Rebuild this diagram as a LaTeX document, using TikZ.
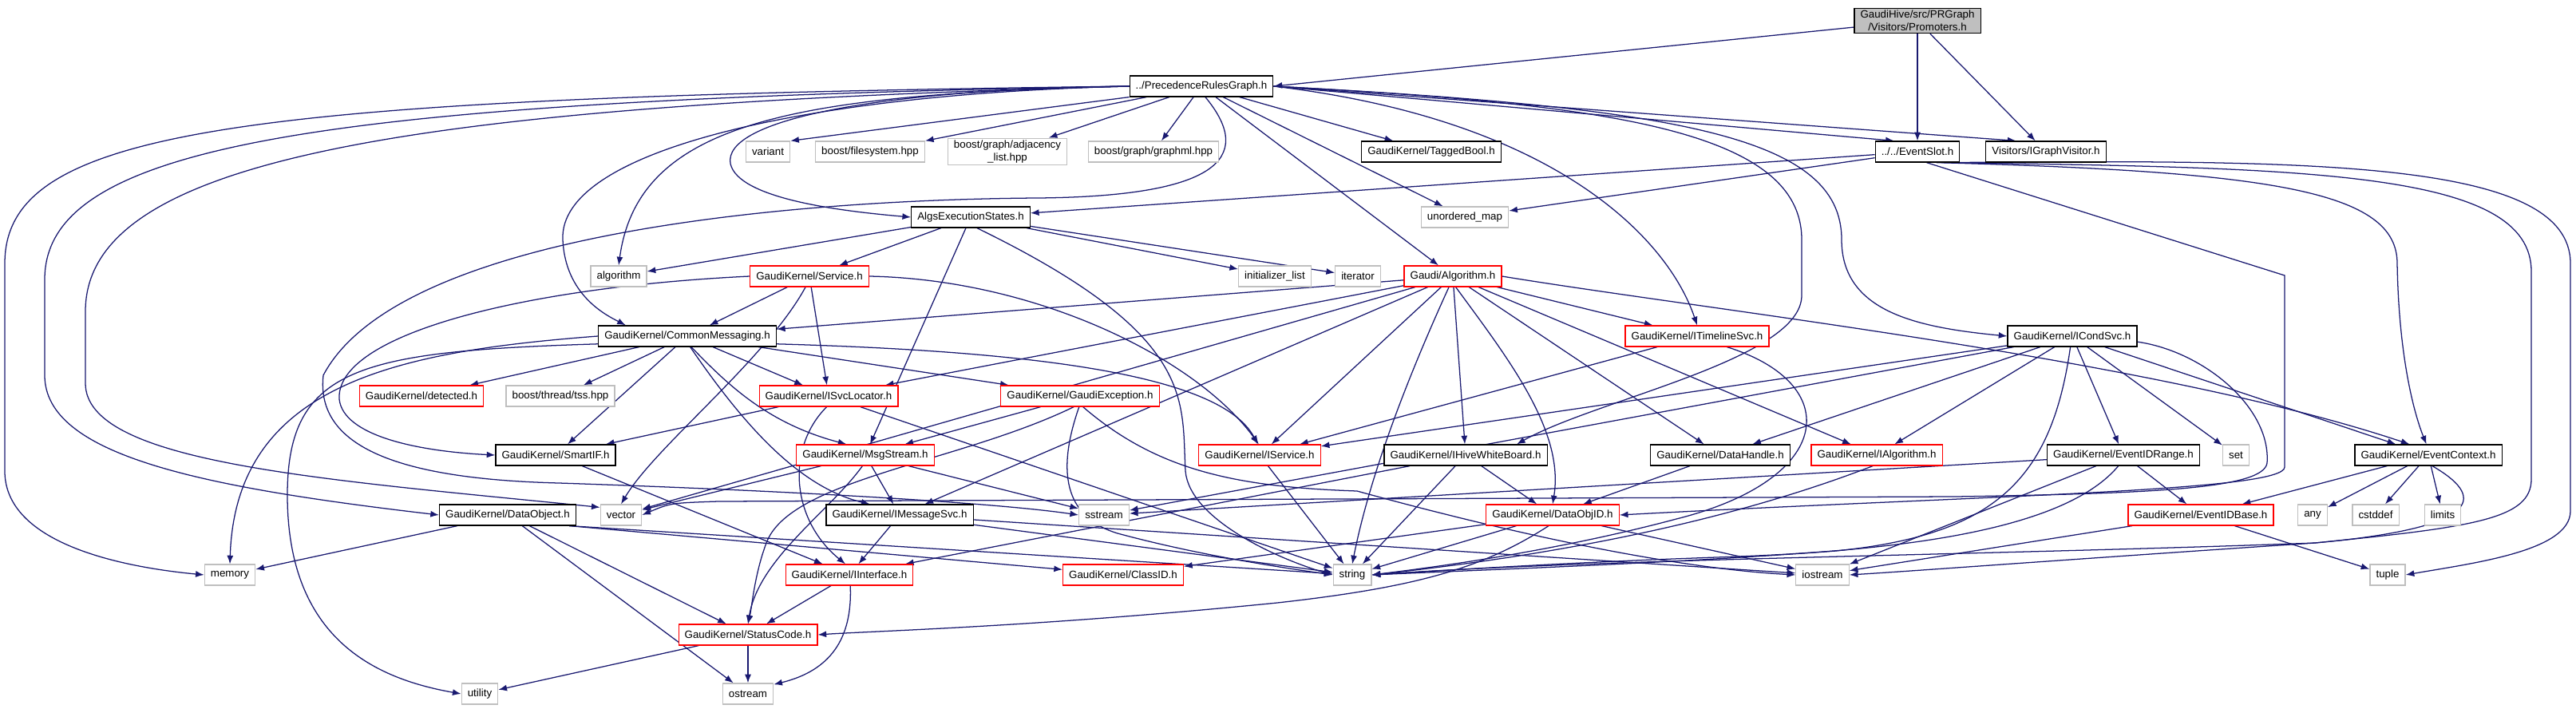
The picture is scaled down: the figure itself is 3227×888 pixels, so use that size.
\documentclass[tikz,border=0pt]{standalone}
\usepackage{fontspec}
\setmainfont{Liberation Sans}
\usetikzlibrary{arrows.meta,backgrounds}
\definecolor{edgeblue}{HTML}{191970}
\definecolor{boxgrey}{HTML}{BFBFBF}

\begin{document}
\begin{tikzpicture}[x=0.75pt, y=-0.75pt,
	file/.style={shape=rectangle, draw=black, fill=white, line width=0.9pt, minimum height=19.5pt, inner xsep=5.7pt, inner ysep=2pt, align=center, font=\fontsize{10}{12}\selectfont},
	trunc/.style={file, draw=red},
	sys/.style={file, draw=boxgrey},
	root/.style={file, fill=boxgrey},
	>={Latex[length=8pt,width=6pt]}, dep/.style={->, draw=edgeblue, line width=0.95pt}]
				\useasboundingbox (0,0) rectangle (3227,888);
				\node[root] (prom) at (2402,26) {GaudiHive/src/PRGraph\\/Visitors/Promoters.h};
				\node[file] (prg) at (1505,108) {../PrecedenceRulesGraph.h};
				\node[file] (slot) at (2402,190) {../../EventSlot.h};
				\node[file] (visit) at (2563,190) {Visitors/IGraphVisitor.h};
				\node[sys] (variant) at (962,190) {variant};
				\node[sys] (fsys) at (1090,190) {boost/filesystem.hpp};
				\node[sys] (adj) at (1262,190) {boost/graph/adjacency\\\_list.hpp};
				\node[sys] (gml) at (1445,190) {boost/graph/graphml.hpp};
				\node[file] (tbool) at (1793,190) {GaudiKernel/TaggedBool.h};
				\node[file] (aes) at (1216,272) {AlgsExecutionStates.h};
				\node[sys] (umap) at (1835,272) {unordered\_map};
				\node[sys] (algo) at (775,346) {algorithm};
				\node[trunc] (svc) at (1014,346) {GaudiKernel/Service.h};
				\node[sys] (ilist) at (1597,346) {initializer\_list};
				\node[sys] (iter) at (1701,346) {iterator};
				\node[trunc] (galg) at (1820,346) {Gaudi/Algorithm.h};
				\node[file] (cmsg) at (861,421) {GaudiKernel/CommonMessaging.h};
				\node[trunc] (tlsvc) at (2126,421) {GaudiKernel/ITimelineSvc.h};
				\node[file] (cond) at (2596,421) {GaudiKernel/ICondSvc.h};
				\node[trunc] (detd) at (528,496) {GaudiKernel/detected.h};
				\node[sys] (tss) at (702,496) {boost/thread/tss.hpp};
				\node[trunc] (svcloc) at (1038,496) {GaudiKernel/ISvcLocator.h};
				\node[trunc] (gexc) at (1353,496) {GaudiKernel/GaudiException.h};
				\node[file] (smart) at (696,570) {GaudiKernel/SmartIF.h};
				\node[trunc] (msgs) at (1084,570) {GaudiKernel/MsgStream.h};
				\node[trunc] (isvc) at (1578,570) {GaudiKernel/IService.h};
				\node[file] (hwb) at (1836,570) {GaudiKernel/IHiveWhiteBoard.h};
				\node[file] (dh) at (2155,570) {GaudiKernel/DataHandle.h};
				\node[trunc] (ialg) at (2351,570) {GaudiKernel/IAlgorithm.h};
				\node[file] (idr) at (2660,570) {GaudiKernel/EventIDRange.h};
				\node[sys] (stdset) at (2801,570) {set};
				\node[file] (ectx) at (3042,570) {GaudiKernel/EventContext.h};
				\node[file] (dobj) at (636,645) {GaudiKernel/DataObject.h};
				\node[sys] (vec) at (778,645) {vector};
				\node[file] (imsg) at (1127,645) {GaudiKernel/IMessageSvc.h};
				\node[sys] (sstr) at (1383,645) {sstream};
				\node[trunc] (doid) at (1945,645) {GaudiKernel/DataObjID.h};
				\node[trunc] (eidb) at (2757,645) {GaudiKernel/EventIDBase.h};
				\node[sys] (stdany) at (2897,645) {any};
				\node[sys] (cstd) at (2976,645) {cstddef};
				\node[sys] (lim) at (3060,645) {limits};
				\node[sys] (mem) at (288,720) {memory};
				\node[trunc] (iif) at (1064,720) {GaudiKernel/IInterface.h};
				\node[trunc] (clid) at (1407,720) {GaudiKernel/ClassID.h};
				\node[sys] (str) at (1694,720) {string};
				\node[sys] (ios) at (2283,720) {iostream};
				\node[sys] (tup) at (2991,720) {tuple};
				\node[trunc] (sc) at (937,795) {GaudiKernel/StatusCode.h};
				\node[sys] (util) at (601,869) {utility};
				\node[sys] (ostr) at (937,869) {ostream};
				\begin{scope}[on background layer]
				\draw[dep] (prom) to (prg.east);
				\draw[dep] (prom) to (slot);
				\draw[dep] (prom) to (visit);
				\draw[dep] (prg.south west) to (variant.north east);
				\draw[dep] (prg) to (fsys);
				\draw[dep] (prg) to (adj);
				\draw[dep] (prg) to (gml);
				\draw[dep] (prg) to (tbool);
				\draw[dep] (prg) to (umap);
				\draw[dep] (prg) to (galg);
				\draw[dep] (prg.east) to (slot.155);
				\draw[dep] (prg.east) to (visit.160);
				\draw[dep] (prg.west) .. controls (1100,112) and (905,150) .. (915,205) .. controls (925,250) and (1060,265) .. (aes.west);
				\draw[dep] (prg.west) .. controls (1000,118) and (800,150) .. (algo.north);
				\draw[dep] (prg.west) .. controls (1000,118) and (700,190) .. (705,300) .. controls (708,370) and (760,395) .. (cmsg.170);
				\draw[dep] (prg.west) .. controls (300,122) and (6,160) .. (6,330) -- (6,590) .. controls (6,680) and (150,710) .. (mem.west);
				\draw[dep] (prg.west) .. controls (400,126) and (56,180) .. (56,350) -- (56,470) .. controls (56,570) and (250,610) .. (dobj.west);
				\draw[dep] (prg.west) .. controls (500,132) and (107,200) .. (107,390) -- (107,480) .. controls (107,580) and (400,600) .. (vec.160);
				\draw[dep] (prg.-70) .. controls (1575,200) and (1520,246) .. (1300,248) .. controls (1000,250) and (500,290) .. (405,470) .. controls (395,560) and (500,600) .. (700,605) .. controls (1000,615) and (1250,630) .. (sstr.west);
				\draw[dep] (prg.east) .. controls (1950,150) and (2090,300) .. (tlsvc.north);
				\draw[dep] (prg.east) .. controls (2000,130) and (2257,160) .. (2257,300) -- (2257,370) .. controls (2257,450) and (2000,500) .. (hwb.12);
				\draw[dep] (prg.east) .. controls (2100,135) and (2307,170) .. (2307,300) .. controls (2307,390) and (2400,410) .. (cond.west);
				\draw[dep] (slot) to (aes);
				\draw[dep] (slot) to (umap);
				\draw[dep] (slot.-50) -- (2862,345) -- (2862,585) .. controls (2862,615) and (2500,620) .. (doid.east);
				\draw[dep] (slot.-30) .. controls (2850,215) and (3003,240) .. (3003,330) .. controls (3005,450) and (3025,520) .. (ectx.100);
				\draw[dep] (slot.-25) .. controls (2900,210) and (3171,215) .. (3171,340) -- (3171,600) .. controls (3171,650) and (3100,660) .. (2900,680) .. controls (2500,695) and (2000,700) .. (str.east);
				\draw[dep] (slot.-20) .. controls (2900,200) and (3220,200) .. (3220,330) -- (3220,640) .. controls (3220,690) and (3100,705) .. (tup.east);
				\draw[dep] (aes) to (algo);
				\draw[dep] (aes) to (svc);
				\draw[dep] (aes) to (ilist);
				\draw[dep] (aes) to (iter);
				\draw[dep] (aes) to (msgs);
				\draw[dep] (aes.-60) .. controls (1500,420) and (1480,500) .. (1485,590) .. controls (1490,650) and (1600,700) .. (str.west);
				\draw[dep] (svc) to (cmsg);
				\draw[dep] (svc) to (svcloc);
				\draw[dep] (svc.east) .. controls (1300,350) and (1500,450) .. (isvc.95);
				\draw[dep] (svc.west) .. controls (650,360) and (420,420) .. (425,500) .. controls (430,545) and (520,565) .. (smart.west);
				\draw[dep] (svc.250) .. controls (960,450) and (820,560) .. (vec.north);
				\draw[dep] (galg) to (cmsg);
				\draw[dep] (galg) to (svcloc);
				\draw[dep] (galg) to (vec);
				\draw[dep] (galg) to (isvc);
				\draw[dep] (galg) to (hwb);
				\draw[dep] (galg) to (dh);
				\draw[dep] (galg) to (ialg);
				\draw[dep] (galg) to (tlsvc);
				\draw[dep] (galg) to (imsg);
				\draw[dep] (galg.east) .. controls (2150,390) and (2700,450) .. (ectx.150);
				\draw[dep] (galg.-110) .. controls (1760,480) and (1715,600) .. (str.north);
				\draw[dep] (galg.-75) .. controls (1890,450) and (1960,540) .. (doid.north);
				\draw[dep] (tlsvc) to (isvc);
				\draw[dep] (tlsvc.-20) .. controls (2310,480) and (2300,600) .. (2100,650) .. controls (1950,690) and (1800,710) .. (str.east);
				\draw[dep] (cond) to (isvc);
				\draw[dep] (cond) to (sstr);
				\draw[dep] (cond) to (dh);
				\draw[dep] (cond) to (ialg);
				\draw[dep] (cond) to (idr);
				\draw[dep] (cond) to (stdset);
				\draw[dep] (cond) to (ectx);
				\draw[dep] (cond.-100) .. controls (2570,600) and (2500,670) .. (2300,690) .. controls (2100,705) and (1900,712) .. (str.east);
				\draw[dep] (cond.-5) .. controls (2760,440) and (2845,510) .. (2840,580) .. controls (2835,612) and (2700,618) .. (2450,622) -- (900,628) .. controls (840,630) .. (vec.east);
				\draw[dep] (cmsg) to (detd);
				\draw[dep] (cmsg) to (tss);
				\draw[dep] (cmsg) to (smart);
				\draw[dep] (cmsg) to (svcloc);
				\draw[dep] (cmsg) to (gexc);
				\draw[dep] (cmsg.-70) .. controls (910,480) and (960,530) .. (msgs.150);
				\draw[dep] (cmsg.-75) .. controls (930,530) and (1000,610) .. (imsg.160);
				\draw[dep] (cmsg.-5) .. controls (1300,440) and (1530,470) .. (isvc.100);
				\draw[dep] (cmsg.west) .. controls (500,440) and (295,480) .. (mem.north);
				\draw[dep] (cmsg.185) .. controls (450,440) and (360,460) .. (360,620) .. controls (360,800) and (470,850) .. (util.west);
				\draw[dep] (svcloc) to (smart);
				\draw[dep] (svcloc) to (str);
				\draw[dep] (svcloc.-100) .. controls (985,560) and (990,650) .. (iif.110);
				\draw[dep] (gexc) to (msgs);
				\draw[dep] (gexc.-120) .. controls (1200,580) and (990,600) .. (960,680) .. controls (945,720) and (942,760) .. (sc.north);
				\draw[dep] (gexc.-95) .. controls (1320,600) and (1340,650) .. (1400,668) .. controls (1500,695) and (1600,710) .. (str.west);
				\draw[dep] (gexc.-75) .. controls (1450,590) and (1550,610) .. (1700,615) .. controls (1900,670) and (2100,712) .. (ios.west);
				\draw[dep] (smart) to (iif);
				\draw[dep] (msgs) to (imsg);
				\draw[dep] (msgs) to (sstr);
				\draw[dep] (msgs) to (vec);
				\draw[dep] (msgs.-105) .. controls (1040,640) and (950,700) .. (sc.north);
				\draw[dep] (isvc) to (str);
				\draw[dep] (hwb) to (iif);
				\draw[dep] (hwb) to (doid);
				\draw[dep] (hwb) to (str);
				\draw[dep] (dh) to (doid);
				\draw[dep] (ialg.-110) .. controls (2200,640) and (2000,690) .. (str.east);
				\draw[dep] (idr) to (sstr);
				\draw[dep] (idr) to (eidb);
				\draw[dep] (idr) to (ios);
				\draw[dep] (idr.-115) .. controls (2590,660) and (2400,690) .. (2150,698) .. controls (1950,705) and (1800,715) .. (str.east);
				\draw[dep] (ectx) to (eidb);
				\draw[dep] (ectx) to (stdany);
				\draw[dep] (ectx) to (cstd);
				\draw[dep] (ectx) to (lim);
				\draw[dep] (ectx.-70) .. controls (3110,620) and (3120,660) .. (2900,680) .. controls (2600,700) and (2400,715) .. (ios.east);
				\draw[dep] (dobj) to (mem);
				\draw[dep] (dobj) to (sc);
				\draw[dep] (dobj) to (ostr);
				\draw[dep] (dobj.-10) to (clid);
				\draw[dep] (dobj.-10) to (str);
				\draw[dep] (imsg) to (iif);
				\draw[dep] (imsg) to (str);
				\draw[dep] (imsg) to (ios);
				\draw[dep] (doid) to (clid);
				\draw[dep] (doid) to (str);
				\draw[dep] (doid) to (ios);
				\draw[dep] (doid.-110) .. controls (1860,710) and (1780,735) .. (1600,755) .. controls (1300,785) and (1100,790) .. (sc.east);
				\draw[dep] (eidb) to (ios);
				\draw[dep] (eidb) to (tup);
				\draw[dep] (iif) to (sc);
				\draw[dep] (iif.-85) .. controls (1068,800) and (1040,840) .. (ostr.20);
				\draw[dep] (sc) to (util);
				\draw[dep] (sc) to (ostr);
				\end{scope}
			\end{tikzpicture}
\end{document}
